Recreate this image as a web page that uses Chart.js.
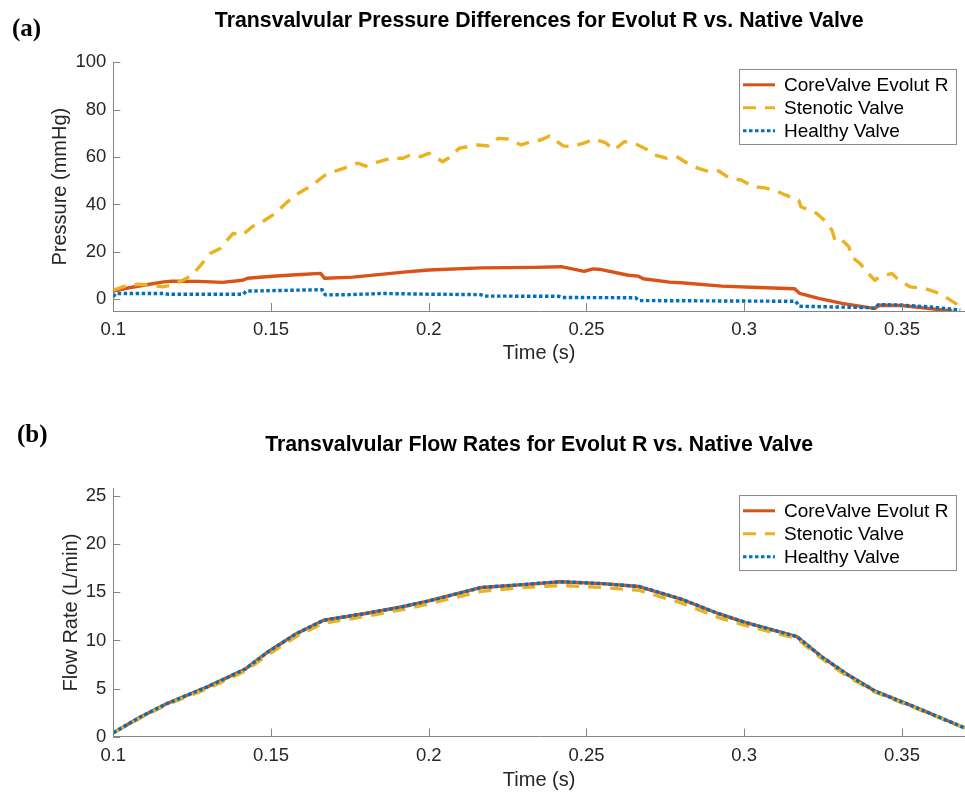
<!DOCTYPE html>
<html>
<head>
<meta charset="utf-8">
<script src="https://cdn.jsdelivr.net/npm/chart.js@4.4.1/dist/chart.umd.min.js"></script>
<style>
  html, body { margin: 0; padding: 0; background: #ffffff; }
  body { width: 965px; height: 794px; position: relative; overflow: hidden; }
  .panel { position: absolute; left: 0; }
  #p1 { top: 0; width: 965px; height: 400px; }
  #p2 { top: 400px; width: 965px; height: 394px; }
</style>
</head>
<body>
<div class="panel" id="p1"><canvas id="c1" width="965" height="400"></canvas></div>
<div class="panel" id="p2"><canvas id="c2" width="965" height="394"></canvas></div>
<script>
// ---------- data ----------
const seriesNames = ['CoreValve Evolut R', 'Stenotic Valve', 'Healthy Valve'];
const xTickValues = [0.1, 0.15, 0.2, 0.25, 0.3, 0.35];
const pressureTicks = [0, 20, 40, 60, 80, 100];
const flowTicks = [0, 5, 10, 15, 20, 25];

// (a) pressure differences (mmHg)
const pCoreTime = [0.1, 0.105, 0.111, 0.116, 0.1187, 0.127, 0.1346, 0.141, 0.1425, 0.1505, 0.158, 0.1657, 0.167, 0.176, 0.192, 0.2, 0.2167, 0.2335, 0.242, 0.2493, 0.252, 0.2547, 0.2633, 0.2665, 0.268, 0.2763, 0.28, 0.2929, 0.3046, 0.316, 0.3176, 0.3236, 0.331, 0.3412, 0.343, 0.35, 0.358, 0.366];
const pCore = [3.4, 4.8, 6.2, 7.3, 7.6, 7.5, 7.1, 8.0, 8.8, 9.7, 10.3, 10.9, 8.8, 9.3, 11.4, 12.3, 13.2, 13.4, 13.7, 11.7, 12.8, 12.5, 10.1, 9.7, 8.6, 7.2, 6.9, 5.5, 4.9, 4.4, 2.4, 0.3, -1.8, -3.9, -2.6, -2.7, -3.9, -5.0];

const pStenTime = [0.1, 0.1037, 0.108, 0.1123, 0.1155, 0.1187, 0.122, 0.125, 0.1282, 0.1307, 0.1339, 0.1361, 0.138, 0.1409, 0.144, 0.1473, 0.1513, 0.1552, 0.1587, 0.1632, 0.1667, 0.1699, 0.173, 0.1775, 0.18, 0.184, 0.188, 0.1918, 0.1943, 0.1975, 0.2, 0.2022, 0.2044, 0.207, 0.2096, 0.2124, 0.2156, 0.2188, 0.222, 0.2251, 0.2293, 0.2324, 0.2355, 0.2383, 0.2426, 0.245, 0.249, 0.2525, 0.256, 0.2588, 0.262, 0.2652, 0.269, 0.2715, 0.2754, 0.2785, 0.282, 0.2855, 0.289, 0.292, 0.2954, 0.299, 0.303, 0.3065, 0.3097, 0.313, 0.3173, 0.318, 0.323, 0.3253, 0.3278, 0.3288, 0.3305, 0.3332, 0.334, 0.3367, 0.3389, 0.3414, 0.343, 0.3468, 0.349, 0.3526, 0.3573, 0.3605, 0.3637, 0.367, 0.3697];
const pSten = [3.8, 5.5, 6.3, 5.9, 5.2, 5.9, 8.0, 10.1, 15.1, 19.3, 21.4, 24.9, 27.8, 27.0, 30.6, 32.7, 36.2, 41.1, 44.7, 48.2, 52.0, 53.8, 55.2, 57.4, 56.2, 58.0, 59.5, 59.5, 60.9, 60.2, 61.6, 59.9, 58.0, 60.2, 63.7, 64.4, 65.1, 64.7, 67.9, 67.6, 65.1, 66.5, 67.2, 68.9, 64.7, 64.4, 65.8, 67.5, 66.1, 63.0, 66.5, 65.8, 63.3, 60.9, 59.5, 60.2, 57.4, 55.2, 53.8, 54.1, 51.0, 50.3, 47.5, 47.0, 46.0, 44.0, 41.8, 39.0, 36.2, 33.4, 29.2, 24.9, 25.6, 22.1, 17.9, 15.1, 11.5, 8.0, 9.4, 10.9, 8.0, 5.2, 4.5, 3.1, 1.0, -1.8, -4.6];

const pHealthyTime = [0.1, 0.1008, 0.1165, 0.1172, 0.1412, 0.1422, 0.1662, 0.1672, 0.175, 0.185, 0.2, 0.2165, 0.2175, 0.2412, 0.2422, 0.2655, 0.2668, 0.3, 0.3163, 0.3175, 0.34, 0.3413, 0.3425, 0.35, 0.36, 0.3685];
const pHealthy = [1.0, 2.4, 2.4, 2.1, 2.1, 3.4, 4.0, 1.8, 1.9, 2.4, 2.1, 1.9, 1.3, 1.2, 0.7, 0.6, -0.6, -0.8, -0.9, -3.0, -3.6, -3.9, -2.3, -2.5, -3.4, -4.6];

// (b) flow rates (L/min)
const fTime = [0.1, 0.1083, 0.1167, 0.13, 0.1417, 0.149, 0.158, 0.1667, 0.18, 0.1917, 0.2, 0.2167, 0.23, 0.2417, 0.255, 0.2667, 0.28, 0.2917, 0.3, 0.3167, 0.3246, 0.333, 0.3417, 0.354, 0.37];
const fCore = [0.4, 2.0, 3.4, 5.2, 7.0, 8.8, 10.7, 12.1, 12.8, 13.5, 14.1, 15.5, 15.8, 16.1, 15.9, 15.6, 14.3, 12.8, 11.9, 10.4, 8.3, 6.4, 4.7, 3.1, 0.9];
const fSten = [0.4, 1.9, 3.3, 5.0, 6.8, 8.5, 10.4, 11.8, 12.5, 13.2, 13.8, 15.1, 15.5, 15.7, 15.5, 15.2, 13.9, 12.4, 11.6, 10.2, 8.1, 6.2, 4.6, 3.0, 0.9];
const fHealthy = [0.4, 2.0, 3.4, 5.2, 7.0, 8.8, 10.7, 12.1, 12.8, 13.5, 14.1, 15.5, 15.8, 16.1, 15.9, 15.6, 14.3, 12.8, 11.9, 10.4, 8.3, 6.4, 4.7, 3.1, 0.9];

// ---------- styling ----------
const COLORS = ['#D95319', '#EDB120', '#0072BD'];
const DASHES = [[], [13, 9], [3.5, 2.5]];
const FONT = "'Liberation Sans', Arial, Helvetica, sans-serif";
const TEXT = '#262626';
const AXIS = '#858585';

function pairs(xs, ys) {
  const n = Math.min(xs.length, ys.length);
  const out = [];
  for (let i = 0; i < n; i++) out.push({ x: xs[i], y: ys[i] });
  return out;
}

function makeDataset(i, data) {
  return {
    label: seriesNames[i],
    data: data,
    borderColor: COLORS[i],
    backgroundColor: COLORS[i],
    borderWidth: 3.4,
    borderDash: DASHES[i],
    borderCapStyle: 'butt',
    borderJoinStyle: 'round',
    pointRadius: 0,
    pointHoverRadius: 0,
    tension: 0,
    fill: false,
    order: 2 - i
  };
}

const decorPlugin = {
  id: 'decor',
  afterDraw(chart, args, opts) {
    const ctx = chart.ctx;
    const area = chart.chartArea;
    const xs = chart.scales.x, ys = chart.scales.y;
    ctx.save();
    // inward tick marks
    ctx.strokeStyle = AXIS;
    ctx.lineWidth = 1;
    ctx.setLineDash([]);
    ctx.beginPath();
    xs.ticks.forEach(t => {
      const px = Math.round(xs.getPixelForValue(t.value)) + 0.5;
      ctx.moveTo(px, area.bottom);
      ctx.lineTo(px, area.bottom - 8);
    });
    ys.ticks.forEach(t => {
      const py = Math.round(ys.getPixelForValue(t.value)) + 0.5;
      ctx.moveTo(area.left, py);
      ctx.lineTo(area.left + 7, py);
    });
    ctx.stroke();

    // title centred over plot area
    ctx.fillStyle = '#000000';
    ctx.font = 'bold 21.3px ' + FONT;
    ctx.textAlign = 'center';
    ctx.textBaseline = 'middle';
    ctx.fillText(opts.title, (area.left + area.right) / 2, opts.titleY);

    // panel tag
    ctx.font = 'bold 25px "Liberation Serif", "Times New Roman", serif';
    ctx.textAlign = 'left';
    ctx.fillText(opts.tag, opts.tagX, opts.tagY);

    // legend box
    const bw = 217, bh = 75;
    const bx = area.right - 9 - bw, by = area.top + 7;
    ctx.fillStyle = '#ffffff';
    ctx.fillRect(bx, by, bw, bh);
    ctx.strokeStyle = '#8a8a8a';
    ctx.lineWidth = 1;
    ctx.strokeRect(Math.round(bx) + 0.5, Math.round(by) + 0.5, bw, bh);
    ctx.font = '19px ' + FONT;
    ctx.textBaseline = 'middle';
    chart.data.datasets.forEach((ds, i) => {
      const cy = by + 15.5 + i * 23;
      ctx.strokeStyle = ds.borderColor;
      ctx.lineWidth = 3;
      ctx.setLineDash(ds.borderDash);
      ctx.beginPath();
      ctx.moveTo(bx + 4, cy);
      ctx.lineTo(bx + 36, cy);
      ctx.stroke();
      ctx.setLineDash([]);
      ctx.fillStyle = '#000000';
      ctx.fillText(ds.label, bx + 45, cy + 1);
    });
    ctx.restore();
  }
};

function makeChart(canvasId, cfg) {
  const topPad = cfg.areaTop;
  const xAxisH = cfg.canvasH - cfg.areaBottom;
  return new Chart(document.getElementById(canvasId), {
    type: 'line',
    data: { datasets: cfg.datasets },
    options: {
      responsive: false,
      maintainAspectRatio: false,
      animation: false,
      devicePixelRatio: 1,
      layout: { padding: { left: 0, right: 0, top: topPad, bottom: 0 } },
      plugins: {
        legend: { display: false },
        tooltip: { enabled: false },
        title: { display: false },
        decor: { title: cfg.title, titleY: cfg.titleY, tag: cfg.tag, tagX: cfg.tagX, tagY: cfg.tagY }
      },
      scales: {
        x: {
          type: 'linear',
          min: 0.1,
          max: 0.37,
          afterBuildTicks: s => { s.ticks = xTickValues.map(v => ({ value: v })); },
          afterFit: s => { s.height = xAxisH; },
          grid: { display: false, drawTicks: false },
          border: { display: true, color: AXIS, width: 1 },
          ticks: {
            padding: 8,
            color: TEXT,
            font: { family: FONT, size: 18.5 },
            maxRotation: 0,
            autoSkip: false,
            callback: v => String(v)
          },
          title: {
            display: true,
            text: 'Time (s)',
            color: TEXT,
            font: { family: FONT, size: 20 },
            padding: { top: 0, bottom: cfg.xTitlePad }
          }
        },
        y: {
          type: 'linear',
          min: cfg.yMin,
          max: cfg.yMax,
          afterBuildTicks: s => { s.ticks = cfg.yTicks.map(v => ({ value: v })); },
          afterFit: s => { s.width = 113.3; },
          grid: { display: false, drawTicks: false },
          border: { display: true, color: AXIS, width: 1 },
          ticks: {
            padding: 7,
            color: TEXT,
            font: { family: FONT, size: 18.5 },
            autoSkip: false,
            callback: v => String(v)
          },
          title: {
            display: true,
            text: cfg.yTitle,
            color: TEXT,
            font: { family: FONT, size: 20 },
            padding: { top: cfg.yTitlePad, bottom: 0 }
          }
        }
      }
    },
    plugins: [decorPlugin]
  });
}

makeChart('c1', {
  canvasH: 400,
  areaTop: 62.3,
  areaBottom: 311,
  yMin: -5,
  yMax: 100,
  yTicks: pressureTicks,
  yTitle: 'Pressure (mmHg)',
  yTitlePad: 48,
  xTitlePad: 35,
  title: 'Transvalvular Pressure Differences for Evolut R vs. Native Valve',
  titleY: 21,
  tag: '(a)',
  tagX: 12,
  tagY: 30,
  datasets: [
    makeDataset(0, pairs(pCoreTime, pCore)),
    makeDataset(1, pairs(pStenTime, pSten)),
    makeDataset(2, pairs(pHealthyTime, pHealthy))
  ]
});

makeChart('c2', {
  canvasH: 394,
  areaTop: 88.3,
  areaBottom: 336.7,
  yMin: 0,
  yMax: 25.8,
  yTicks: flowTicks,
  yTitle: 'Flow Rate (L/min)',
  yTitlePad: 59,
  xTitlePad: 2,
  title: 'Transvalvular Flow Rates for Evolut R vs. Native Valve',
  titleY: 45.5,
  tag: '(b)',
  tagX: 17,
  tagY: 36,
  datasets: [
    makeDataset(0, pairs(fTime, fCore)),
    makeDataset(1, pairs(fTime, fSten)),
    makeDataset(2, pairs(fTime, fHealthy))
  ]
});
</script>
</body>
</html>
